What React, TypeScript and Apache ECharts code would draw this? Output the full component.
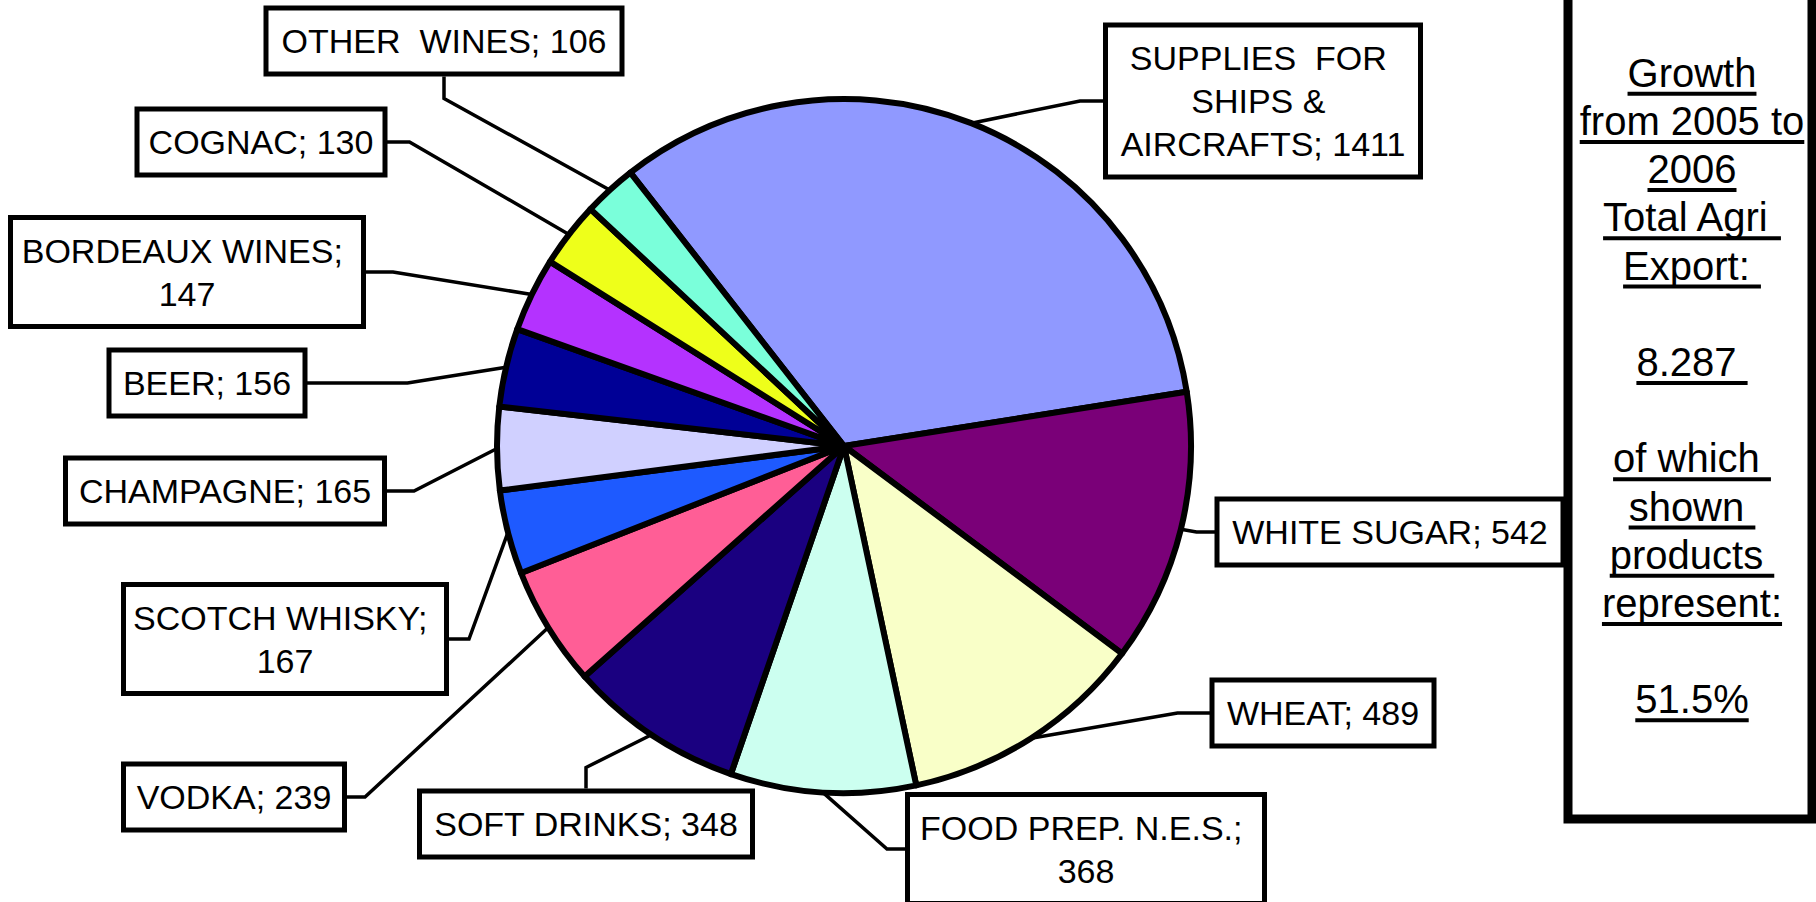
import React, { useEffect, useRef } from "react";
import * as echarts from "echarts";

// ---- data ----
const categories = [
  "SUPPLIES  FOR SHIPS & AIRCRAFTS",
  "WHITE SUGAR",
  "WHEAT",
  "FOOD PREP. N.E.S.",
  "SOFT DRINKS",
  "VODKA",
  "SCOTCH WHISKY",
  "CHAMPAGNE",
  "BEER",
  "BORDEAUX WINES",
  "COGNAC",
  "OTHER  WINES",
];
const values = [1411, 542, 489, 368, 348, 239, 167, 165, 156, 147, 130, 106];
const sliceColors = [
  "#9099FF",
  "#7A0078",
  "#F9FFC8",
  "#CCFFF0",
  "#1A0080",
  "#FF5E96",
  "#1E5AFF",
  "#D0D0FF",
  "#000096",
  "#B432FF",
  "#EEFF1A",
  "#7AFFDA",
];
const panelLines = [
  "Growth",
  "from 2005 to",
  "2006",
  "Total Agri ",
  "Export: ",
  "",
  "8.287 ",
  "",
  "of which ",
  "shown ",
  "products ",
  "represent:",
  "",
  "51.5%",
];

// ---- layout (label boxes: centre x, centre y, width) ----
const labelBoxes: [number, number, number][] = [
  [1263, 101, 310],
  [1390, 532, 341],
  [1323, 713, 217],
  [1086, 849, 352],
  [586, 824, 328],
  [234, 797, 216],
  [285, 639, 318],
  [225, 491, 314],
  [207, 383, 191],
  [187, 272, 348],
  [261, 142, 243],
  [444, 41, 351],
];
const attachSides = ["left", "left", "left", "left", "top", "right", "right", "right", "right", "right", "right", "bottom"];
const elbowLens = [28, 23, 37, 23, 21, 23, 25, 32, 105, 32, 27, 22];

const PIE_CX = 844;
const PIE_CY = 446;
const PIE_R = 347;
const START_ANGLE = 128;
const LABEL_FONT = 34;
const LABEL_LH = 43;
const PANEL_FONT = 40;
const PANEL_CX = 1692;
const PANEL_BASE0 = 86.7;
const PANEL_GAP = 48.2;
const FONT_FAMILY = '"Liberation Sans", Arial, sans-serif';

export default function App() {
  const ref = useRef<HTMLDivElement>(null);

  useEffect(() => {
    document.body.style.margin = "0";
    const chart = echarts.init(ref.current!, null, { renderer: "svg" });

    const total = values.reduce((a, b) => a + b, 0);
    const edgePoints: number[][] = [];
    let cum = 0;
    values.forEach((v) => {
      const ang = ((START_ANGLE - ((cum + v / 2) / total) * 360) * Math.PI) / 180;
      edgePoints.push([PIE_CX + PIE_R * Math.cos(ang), PIE_CY - PIE_R * Math.sin(ang)]);
      cum += v;
    });

    // measure panel texts
    const ctx = document.createElement("canvas").getContext("2d")!;
    ctx.font = `${PANEL_FONT}px ${FONT_FAMILY}`;
    const graphics: any[] = [
      {
        type: "rect",
        shape: { x: 1568, y: -20, width: 244, height: 839 },
        style: { fill: "#fff", stroke: "#000", lineWidth: 9 },
        z: 1,
      },
    ];
    panelLines.forEach((line, i) => {
      if (!line) return;
      const fullW = ctx.measureText(line).width;
      const left = PANEL_CX - fullW / 2;
      const base = PANEL_BASE0 + i * PANEL_GAP;
      graphics.push({
        type: "text",
        x: left,
        y: base - PANEL_FONT * 0.3465,
        z: 2,
        style: {
          text: line.trimEnd(),
          fill: "#000",
          font: `${PANEL_FONT}px ${FONT_FAMILY}`,
          textAlign: "left",
          textVerticalAlign: "middle",
        },
      });
      graphics.push({
        type: "line",
        z: 2,
        shape: { x1: left, y1: base + 7, x2: left + fullW, y2: base + 7 },
        style: { stroke: "#000", lineWidth: 4 },
      });
    });

    const option: any = {
      animation: false,
      backgroundColor: "#fff",
      graphic: graphics,
      series: [
        {
          type: "pie",
          center: [PIE_CX, PIE_CY],
          radius: PIE_R,
          startAngle: START_ANGLE,
          clockwise: true,
          avoidLabelOverlap: false,
          silent: true,
          itemStyle: { borderColor: "#000", borderWidth: 6, borderJoin: "round" },
          label: {
            show: true,
            position: "outer",
            formatter: (p: any) => `${p.name}; ${p.value}`,
            fontSize: LABEL_FONT,
            fontFamily: FONT_FAMILY,
            color: "#000",
            lineHeight: LABEL_LH,
            backgroundColor: "#fff",
            borderColor: "#000",
            borderWidth: 5,
            padding: [9, 0],
            overflow: "break",
            align: "center",
          },
          labelLine: {
            show: true,
            smooth: false,
            lineStyle: { color: "#000", width: 3.5 },
          },
          labelLayout: (params: any) => {
            const i = params.dataIndex;
            const [cx, cy, w] = labelBoxes[i];
            const h = params.labelRect.height;
            const side = attachSides[i];
            const L = elbowLens[i];
            let end: number[];
            let elbow: number[];
            if (side === "left") {
              end = [cx - w / 2, cy];
              elbow = [end[0] - L, cy];
            } else if (side === "right") {
              end = [cx + w / 2, cy];
              elbow = [end[0] + L, cy];
            } else if (side === "top") {
              end = [cx, cy - h / 2];
              elbow = [cx, end[1] - L];
            } else {
              end = [cx, cy + h / 2];
              elbow = [cx, end[1] + L];
            }
            return {
              x: cx,
              y: cy,
              align: "center",
              verticalAlign: "middle",
              labelLinePoints: [edgePoints[i], elbow, end],
            };
          },
          data: categories.map((name, i) => ({
            name,
            value: values[i],
            itemStyle: { color: sliceColors[i] },
            label: { width: labelBoxes[i][2] },
          })),
        },
      ],
    };
    chart.setOption(option);
    return () => chart.dispose();
  }, []);

  return (
    <div
      ref={ref}
      style={{ position: "absolute", left: 0, top: 0, width: 1816, height: 902, background: "#fff" }}
    />
  );
}
